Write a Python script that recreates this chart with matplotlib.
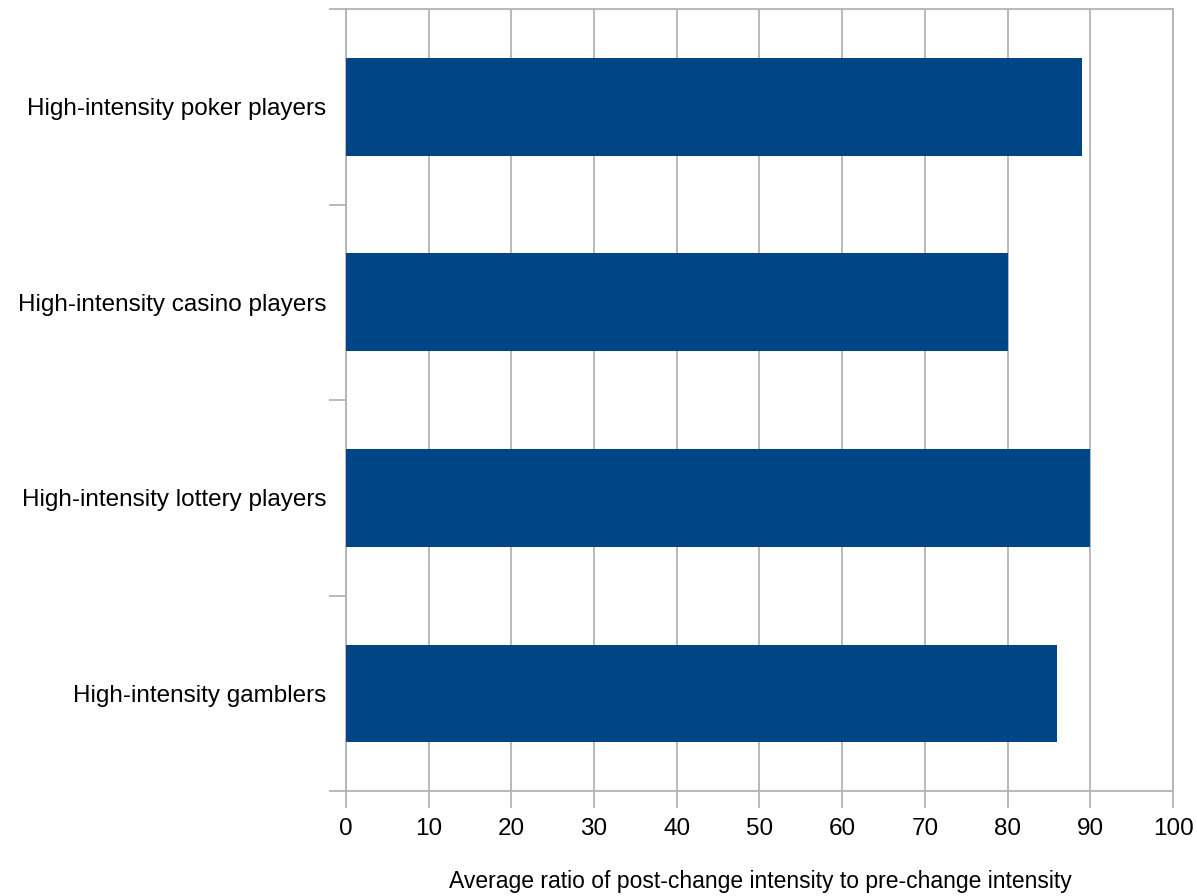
import matplotlib.pyplot as plt
import numpy as np

categories = ["High-intensity gamblers",
              "High-intensity lottery players",
              "High-intensity casino players",
              "High-intensity poker players"]
values = [86, 90, 80, 89]
x_ticks = list(range(0, 101, 10))

plt.rcParams['font.family'] = ['Liberation Sans', 'DejaVu Sans']

fig = plt.figure(figsize=(11.97, 8.96), dpi=100)
ax = fig.add_axes([0.289, 0.117, 0.691, 0.873])

ypos = np.arange(len(categories))
ax.barh(ypos, values, height=0.5, color='#004586', zorder=3)

ax.set_xlim(0, 100)
ax.set_ylim(-0.5, len(categories) - 0.5)
ax.set_xticks(x_ticks)
ax.set_xticklabels([str(v) for v in x_ticks], fontsize=17.5)
ax.set_yticks(ypos)
ax.set_yticklabels(categories, fontsize=17.5)
ax.set_yticks(np.arange(-0.5, len(categories), 1), minor=True)

ax.tick_params(axis='y', which='major', length=0, pad=14)
ax.tick_params(axis='y', which='minor', length=12, color='#b3b3b3', width=1.3)
ax.tick_params(axis='x', length=12, color='#b3b3b3', width=1.3, pad=7)

ax.grid(axis='x', color='#b3b3b3', linewidth=1.3, zorder=0)
for s in ax.spines.values():
    s.set_color('#b3b3b3')
    s.set_linewidth(1.3)

# axis title sits right at the bottom edge, as in the original
fig.text(0.635, 0.003, "Average ratio of post-change intensity to pre-change intensity",
         fontsize=16.5, ha='center', va='bottom')

fig.savefig("out.png", dpi=100)
